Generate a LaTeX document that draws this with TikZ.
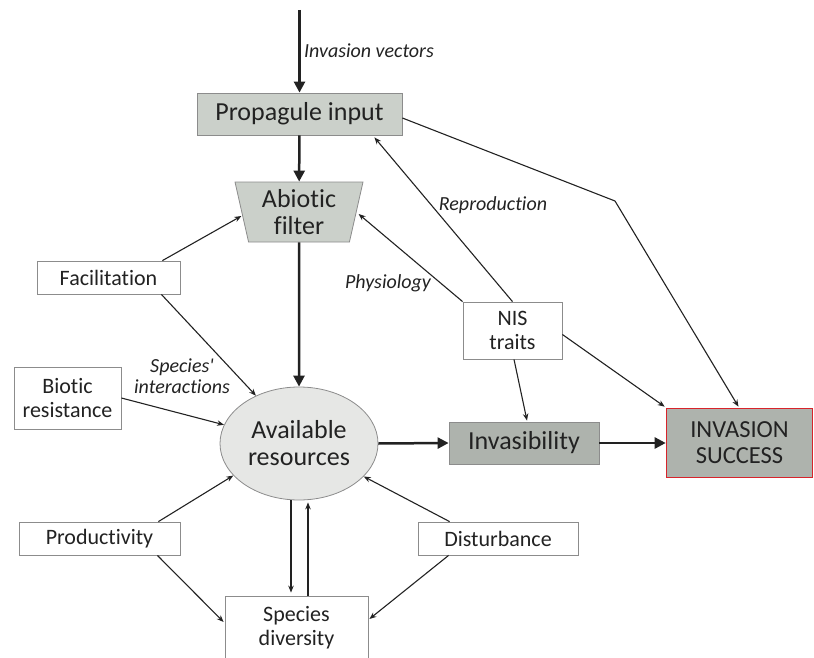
\documentclass[tikz,border=0pt]{standalone}
\usepackage{fontspec}
\setmainfont[Ligatures=NoCommon]{Carlito}
\usetikzlibrary{shapes.geometric,arrows.meta,calc}
\definecolor{linec}{HTML}{222222}
\definecolor{textc}{HTML}{222222}
\definecolor{boxgray}{HTML}{8C8C8C}
\definecolor{lightfill}{HTML}{CBD0CA}
\definecolor{darkfill}{HTML}{AEB3AD}
\definecolor{ellfill}{HTML}{E6E7E5}
\definecolor{redline}{HTML}{D8242B}
\tikzset{
  basebox/.style={draw=boxgray, line width=0.8pt, inner sep=0pt, align=center, text=textc},
  smallbox/.style={basebox, fill=white, font=\fontsize{22}{24}\selectfont},
  bigbox/.style={basebox, font=\fontsize{26}{27}\selectfont},
  lab/.style={font=\itshape\fontsize{20}{21}\selectfont, text=textc, align=center, inner sep=0pt},
  arr/.style={draw=linec, line width=1.1pt, -{Stealth[length=7pt,width=5.5pt]}},
  heavy/.style={draw=linec, line width=2.5pt, -{Triangle[length=11pt,width=11pt]}},
}
\begin{document}
\begin{tikzpicture}[x=1pt,y=-1pt]
\useasboundingbox (0,0) rectangle (814,658);
% nodes
\node[bigbox, fill=lightfill, minimum width=205pt, minimum height=42pt] (prop) at (299.5,114) {Propagule input};
\node[bigbox, fill=lightfill, trapezium, shape border rotate=180, trapezium left angle=73.3, trapezium right angle=73.3, trapezium stretches body, minimum width=128pt, minimum height=60pt] (abiotic) at (299,212) {Abiotic\\filter};
\node[bigbox, fill=ellfill, ellipse, minimum width=158pt, minimum height=113pt] (avail) at (299,443.5) {Available\\resources};
\node[bigbox, fill=darkfill, minimum width=150pt, minimum height=42pt] (inv) at (524,443) {Invasibility};
\node[bigbox, fill=darkfill, draw=redline, line width=1.6pt, minimum width=146pt, minimum height=69pt, font=\fontsize{24.5}{26}\selectfont] (succ) at (739.5,443) {INVASION\\SUCCESS};
\node[smallbox, minimum width=99pt, minimum height=57pt] (nis) at (512.5,330.5) {NIS\\traits};
\node[smallbox, minimum width=143pt, minimum height=33pt] (facil) at (108.5,277.5) {Facilitation};
\node[smallbox, minimum width=107pt, minimum height=62pt] (biotic) at (67.5,398) {Biotic\\resistance};
\node[smallbox, minimum width=161pt, minimum height=33pt] (prod) at (99.5,538.5) {Productivity};
\node[smallbox, minimum width=160pt, minimum height=33pt] (dist) at (498,538.5) {Disturbance};
\node[smallbox, minimum width=143pt, minimum height=64pt] (species) at (296.5,628) {Species\\diversity};
% labels
\node[lab] (lvec) at (369,51) {Invasion vectors};
\node[lab] (lrep) at (493,205) {Reproduction};
\node[lab] (lphys) at (388,283) {Physiology};
\node[lab] (lint) at (182,376) {Species\textquotesingle\\interactions};
% coordinates
\coordinate (top) at (299.5,10);
\coordinate (bend) at (615,201);
% heavy connectors
\draw[heavy] (top) -- (prop);
\draw[heavy] (prop) -- (abiotic);
\draw[heavy] (abiotic) -- (avail);
\draw[heavy] (avail.east) -- (inv.west);
\draw[heavy] (inv.east) -- (succ.west);
% thin connectors
\draw[arr] ($(prop.east)+(0,4)$) -- (bend) -- ($(succ.north)+(-1,-1)$);
\draw[arr] (nis.north) -- ($(prop.south east)+(-28,2)$);
\draw[arr] (nis.north west) -- ($(abiotic.east)+(2,2)$);
\draw[arr] ($(nis.south)+(1.5,0)$) -- ($(inv.north)+(3,-1)$);
\draw[arr] ($(nis.east)+(0,4)$) -- ($(succ.north west)+(-1,-1)$);
\draw[arr] ($(facil.north east)+(-18,0)$) -- ($(abiotic.west)+(0,4)$);
\draw[arr] ($(facil.south east)+(-19,0)$) -- (avail.132);
\draw[arr] (biotic.east) -- (avail.166);
\draw[arr] ($(prod.north east)+(-22,0)$) -- (avail.206);
\draw[arr] ($(dist.north west)+(32,0)$) -- (avail.333);
\draw[arr] ($(prod.south east)+(-23,0)$) -- ($(species.west)+(-1,-6)$);
\draw[arr] ($(dist.south west)+(31,0)$) -- ($(species.east)+(1,-9)$);
\draw[arr] ($(avail.south)+(-8,-0.5)$) -- ($(species.north)+(-5.5,-3)$);
\draw[arr] ($(species.north)+(11.5,0)$) -- ($(avail.south)+(9,2)$);
\end{tikzpicture}
\end{document}
